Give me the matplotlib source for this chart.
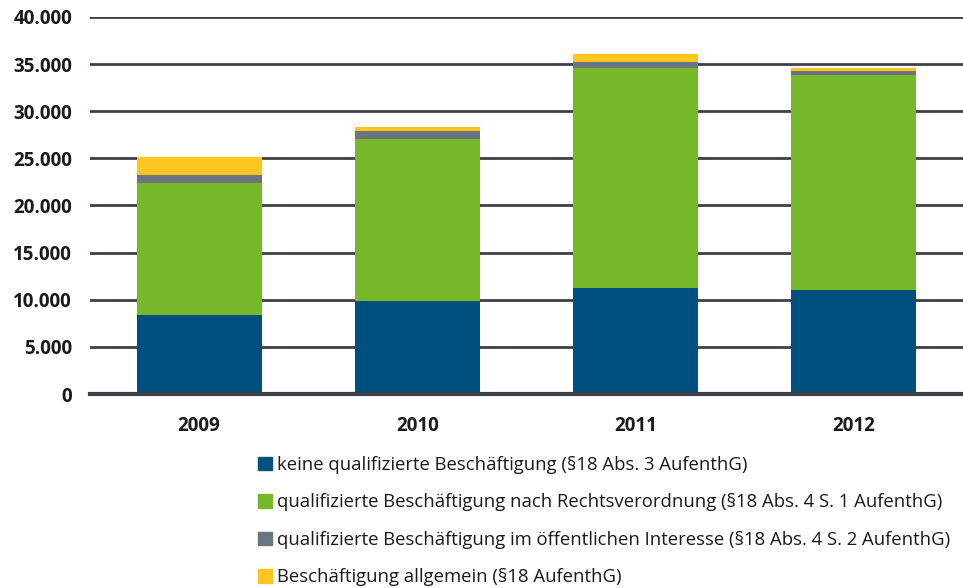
import matplotlib
matplotlib.use("Agg")
import matplotlib.pyplot as plt
from matplotlib.ticker import FuncFormatter, MultipleLocator
from matplotlib.patches import Patch
import numpy as np

years = ["2009", "2010", "2011", "2012"]
keine_qualifiziert = [8400, 9900, 11250, 11050]
qualifiziert_rechtsverordnung = [14000, 17190, 23370, 22800]
qualifiziert_oeffentlich = [850, 810, 610, 420]
allgemein = [1940, 430, 840, 320]

labels = [
    "keine qualifizierte Beschäftigung (§18 Abs. 3 AufenthG)",
    "qualifizierte Beschäftigung nach Rechtsverordnung (§18 Abs. 4 S. 1 AufenthG)",
    "qualifizierte Beschäftigung im öffentlichen Interesse (§18 Abs. 4 S. 2 AufenthG)",
    "Beschäftigung allgemein (§18 AufenthG)",
]
colors = ["#00507f", "#76b82a", "#6b7582", "#fec51e"]

plt.rcParams['font.family'] = ['Open Sans', 'DejaVu Sans']

fig = plt.figure(figsize=(9.63, 5.88), dpi=100)
ax = fig.add_axes([90/963, 1-394/588, 873/963, 377/588])

series = [keine_qualifiziert, qualifiziert_rechtsverordnung, qualifiziert_oeffentlich, allgemein]
x = np.arange(len(years))
bottom = np.zeros(len(years))
for vals, c in zip(series, colors):
    ax.bar(x, vals, width=0.573, bottom=bottom, color=c, zorder=3, linewidth=0)
    bottom += np.array(vals)

ax.set_xlim(-0.5, 3.5)
ax.set_ylim(0, 40000)
ax.yaxis.set_major_locator(MultipleLocator(5000))
ax.yaxis.set_major_formatter(FuncFormatter(lambda v, p: f"{int(v):,}".replace(",", ".")))
ax.grid(axis='y', color='#3d4048', linewidth=2, zorder=1)
ax.set_axisbelow(True)
for s in ["top", "right", "left"]:
    ax.spines[s].set_visible(False)
ax.spines["bottom"].set_color('#3d4048')
ax.spines["bottom"].set_linewidth(3)
ax.spines["bottom"].set_zorder(4)
ax.set_xticks(x)
ax.set_xticklabels(years)
ax.tick_params(axis='both', length=0, labelsize=13.5)
ax.tick_params(axis='y', pad=13)
ax.tick_params(axis='x', pad=16)
for t in ax.get_xticklabels() + ax.get_yticklabels():
    t.set_fontweight('bold')
    t.set_color('#1a1a1a')

handles = [Patch(color=c) for c in colors]
leg = fig.legend(handles, labels, loc='upper left', bbox_to_anchor=(258/963, 1-456/588),
                 frameon=False, fontsize=13.3, handlelength=0.75, handleheight=0.75,
                 handletextpad=0.3, labelspacing=1.05, borderaxespad=0, borderpad=0)
for t in leg.get_texts():
    t.set_color('#1a1a1a')

fig.savefig("out.png", dpi=100)
